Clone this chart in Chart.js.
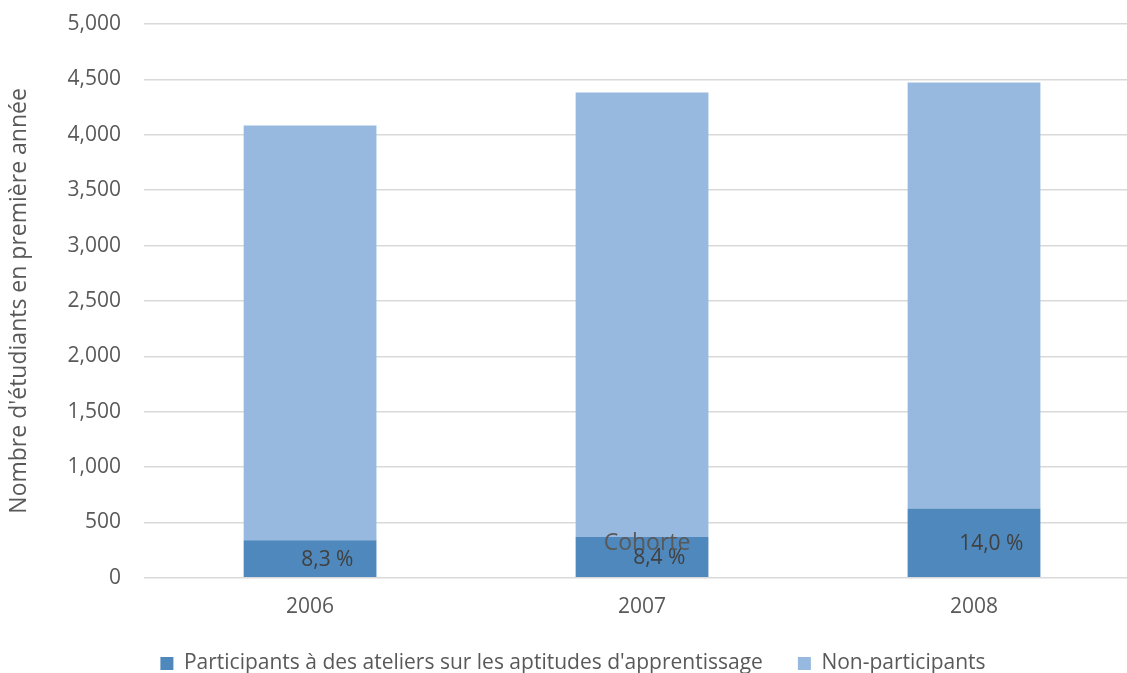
<!DOCTYPE html>
<html>
<head>
<meta charset="utf-8">
<script src="https://cdn.jsdelivr.net/npm/chart.js@4/dist/chart.umd.min.js"></script>
<style>
  html, body { margin: 0; padding: 0; background: #fff; overflow: hidden; }
  #wrap { width: 1140px; height: 673px; }
</style>
</head>
<body>
<div id="wrap"><canvas id="c"></canvas></div>
<script>
// Cohortes et effectifs
const cohorts = ["2006", "2007", "2008"];
const participants = [338, 368, 625];
const nonParticipants = [3745, 4013, 3846];
const shareLabels = ["8,3 %", "8,4 %", "14,0 %"];
const yTicksMax = 5000;
const yTickStep = 500;

const FONT = "'Open Sans', sans-serif";
const GREY = "#595959";

// étiquettes de pourcentage dans la partie foncée
const shareLabelPlugin = {
  id: "shareLabels",
  afterDatasetsDraw(chart) {
    const ctx = chart.ctx;
    const meta = chart.getDatasetMeta(0);
    ctx.save();
    ctx.font = "21px " + FONT;
    ctx.fillStyle = "#404040";
    ctx.textAlign = "center";
    ctx.textBaseline = "middle";
    meta.data.forEach((bar, i) => {
      const { x, y, base, width } = bar.getProps(["x", "y", "base", "width"], true);
      ctx.fillText(shareLabels[i], x + width * 0.13, (y + base) / 2 + 1);
    });
    // titre de l'axe des x, placé comme dans l'original
    const a = chart.chartArea;
    ctx.fillStyle = GREY;
    ctx.font = "23px " + FONT;
    ctx.fillText("Cohorte", (a.left + a.right) / 2 + 5, a.bottom - 34);
    ctx.restore();
  }
};

new Chart(document.getElementById("c"), {
  type: "bar",
  data: {
    labels: cohorts,
    datasets: [
      { label: "Participants à des ateliers sur les aptitudes d'apprentissage", data: participants, backgroundColor: "#4f88bc" },
      { label: "Non-participants", data: nonParticipants, backgroundColor: "#97b9e0" },
    ],
  },
  options: {
    responsive: true,
    maintainAspectRatio: false,
    animation: false,
    layout: { padding: { top: 24, left: 6, right: 0, bottom: -11 } },
    datasets: { bar: { categoryPercentage: 1, barPercentage: 0.4 } },
    scales: {
      x: {
        stacked: true,
        grid: { display: false, drawTicks: false },
        border: { display: false },
        ticks: { color: GREY, font: { family: FONT, size: 21 }, padding: 17 },
        afterFit: s => { s.height -= 19; },
      },
      y: {
        stacked: true,
        min: 0,
        max: yTicksMax,
        grid: { color: "#d9d9d9", lineWidth: 1.4, drawTicks: true, tickLength: 19, tickColor: "transparent" },
        border: { display: false },
        ticks: {
          stepSize: yTickStep,
          color: GREY,
          font: { family: FONT, size: 21 },
          padding: 4,
          callback: v => v.toLocaleString("en-US"),
        },
        title: {
          display: true,
          text: "Nombre d'étudiants en première année",
          color: GREY,
          font: { family: FONT, size: 23 },
          padding: { top: 0, bottom: 30 },
        },
      },
    },
    plugins: {
      legend: {
        position: "bottom",
        labels: {
          color: GREY,
          font: { family: FONT, size: 21 },
          boxWidth: 13,
          boxHeight: 13,
          padding: 35,
        },
      },
      tooltip: { enabled: false },
    },
  },
  plugins: [shareLabelPlugin],
});
</script>
</body>
</html>
